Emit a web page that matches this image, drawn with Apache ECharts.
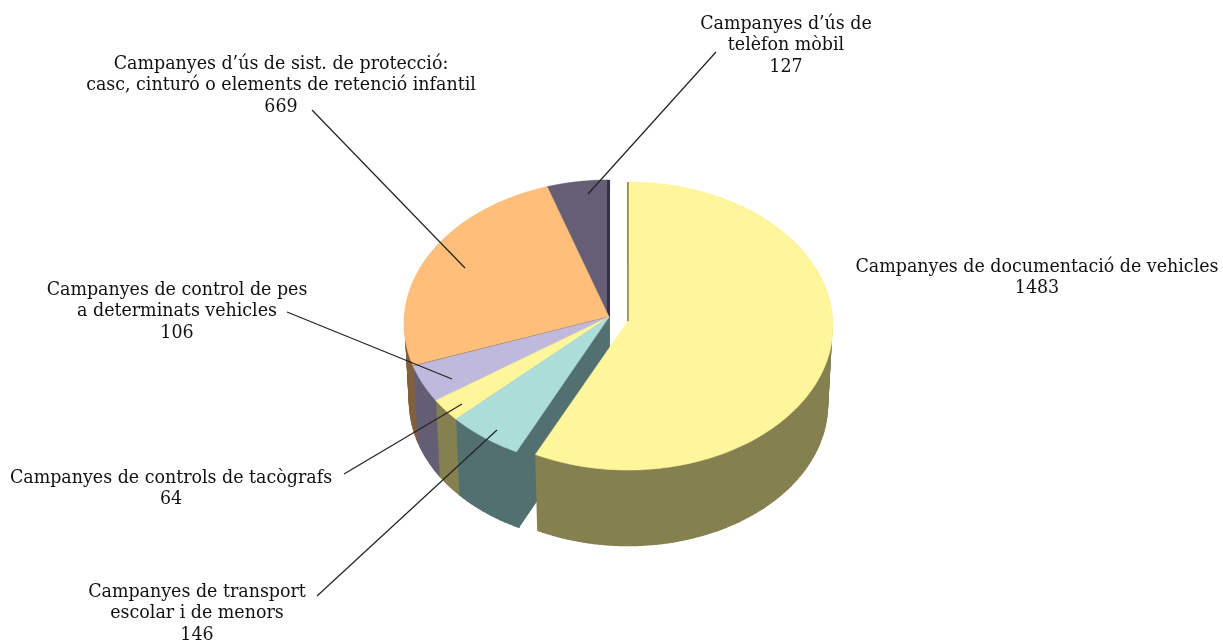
<!DOCTYPE html>
<html><head><meta charset="utf-8">
<style>html,body{margin:0;padding:0;background:#fff}#c{width:1223px;height:643px}</style>
<script src="https://cdn.jsdelivr.net/npm/echarts@6/dist/echarts.min.js"></script>
</head><body><div id="c"></div>
<script>
const categories = [
  "Campanyes de documentació de vehicles",
  "Campanyes de transport\nescolar i de menors",
  "Campanyes de controls de tacògrafs",
  "Campanyes de control de pes\na determinats vehicles",
  "Campanyes d’ús de sist. de protecció:\ncasc, cinturó o elements de retenció infantil",
  "Campanyes d’ús de\ntelèfon mòbil"
];
const values = [1483, 146, 64, 106, 669, 127];
const topColors = ["#FFF59B", "#ADDDD8", "#FFF59B", "#BFBADD", "#FFBF7B", "#645F75"];
const sideColors = ["#858050", "#537070", "#858050", "#645F75", "#80603E", "#33304A"];
const labelCenters = [[1037, 256], [197, 581], [171, 467], [177, 279], [281, 53], [786, 13]];
const leaderStarts = [null, [317, 596], [344, 474], [287, 312], [312, 110], [716, 52]];
const leaderEnds = [null, [497, 430], [462, 404], [452, 379], [465, 268], [588, 194]];

const exploded = {top: {cx: 628, cy: 326, rx: 205, ry: 144}, ax: 628, ay: 321, bot: {cx: 628, cy: 404, rx: 199.5, ry: 141.5}};
const seated = {top: {cx: 609, cy: 323.6, rx: 205, ry: 143.6}, ax: 609, ay: 317, bot: {cx: 609, cy: 401, rx: 199.5, ry: 141.5}};
const total = values.reduce((a, b) => a + b, 0);
let acc = 0;
const slices = values.map((v, i) => {
  const s = {start: acc / total * 360, end: (acc + v) / total * 360, g: i === 0 ? exploded : seated};
  acc += v;
  return s;
});
// mild perspective of the original 3D view: front-left angles look slightly wider
const warp = d => d + 3.2 * Math.exp(-Math.pow((d - 252) / 45, 2));
const rim = (e, d) => {
  const t = warp(d) * Math.PI / 180;
  return [e.cx + e.rx * Math.sin(t), e.cy - e.ry * Math.cos(t)];
};
const arc = (e, a, b) => {
  const n = Math.max(2, Math.ceil((b - a) / 1.5)), out = [];
  for (let k = 0; k <= n; k++) out.push(rim(e, a + (b - a) * k / n));
  return out;
};
const poly = (points, color, w) => ({type: 'polygon', shape: {points},
  style: {fill: color, stroke: color, lineWidth: w, lineJoin: 'round'}});
function wallFace(i) {
  const s = slices[i], g = s.g, c = sideColors[i];
  const inset = {cx: g.top.cx, cy: g.top.cy, rx: g.top.rx - 1.2, ry: g.top.ry - 1.2};
  const a = arc(inset, s.start, s.end), b = arc(g.bot, s.start, s.end);
  const children = [poly([[g.ax, g.ay], rim(inset, s.start), rim(g.bot, s.start), [g.ax, g.ay + 78]], c, 1)];
  for (let k = 0; k + 1 < a.length; k++) children.push(poly([a[k], a[k + 1], b[k + 1], b[k]], c, 1.5));
  return {type: 'group', children};
}
function topFace(i) {
  const s = slices[i], g = s.g;
  const children = [poly([[g.ax, g.ay]].concat(arc(g.top, s.start, s.end)), topColors[i], 0.6)];
  const edgeW = {0: 1.4, 4: 1.2, 5: 3}[i];
  if (edgeW) {
    const d = i === 5 ? s.end : s.start, p = rim(g.top, d);
    const off = i === 5 ? -0.5 : 0;
    children.push({type: 'line', shape: {x1: g.ax + off, y1: g.ay, x2: p[0] + off, y2: p[1]},
      style: {stroke: sideColors[i], lineWidth: edgeW}});
  }
  return {type: 'group', children};
}
const seatedOrder = [5, 4, 3, 2, 1];
const idx = a => a.map(i => ({name: categories[i], value: values[i]}));
const custom = (order, fn) => ({type: 'custom', coordinateSystem: 'none', silent: true, animation: false,
  data: idx(order), renderItem: (p) => fn(order[p.dataIndex])});
const chart = echarts.init(document.getElementById('c'), null, {renderer: 'canvas'});
chart.setOption({
  animation: false,
  backgroundColor: '#fff',
  series: [
    custom(seatedOrder, wallFace),
    custom(seatedOrder, topFace),
    custom([0], wallFace),
    custom([0], topFace),
    custom([1, 2, 3, 4, 5], i => ({type: 'line',
      shape: {x1: leaderStarts[i][0], y1: leaderStarts[i][1], x2: leaderEnds[i][0], y2: leaderEnds[i][1]},
      style: {stroke: '#222', lineWidth: 1.2}})),
    custom([0, 1, 2, 3, 4, 5], i => ({type: 'text', style: {
      text: categories[i] + '\n' + values[i], x: labelCenters[i][0], y: labelCenters[i][1],
      align: 'center', verticalAlign: 'top', fontFamily: '"DejaVu Serif Condensed","DejaVu Serif",serif',
      fontSize: 19.4, lineHeight: 21.6, fill: '#111'}}))
  ]
});
</script></body></html>
